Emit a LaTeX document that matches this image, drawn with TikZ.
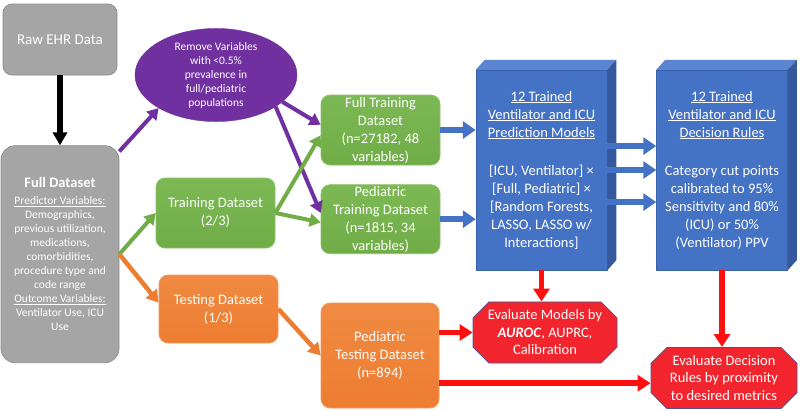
\documentclass[tikz,border=0pt]{standalone}
\usepackage{fontspec}
\setmainfont{Carlito}
\usepackage{tikz}
\usetikzlibrary{arrows.meta,positioning,calc,shapes.geometric,shapes.misc}
\definecolor{ehrgray}{HTML}{A5A5A5}
\definecolor{ehrgrayline}{HTML}{8C8C8C}
\definecolor{remvpurple}{HTML}{7030A0}
\definecolor{traingreen}{HTML}{70AD47}
\definecolor{traingreenlight}{HTML}{7CB955}
\definecolor{traingreenline}{HTML}{8CC26A}
\definecolor{testorange}{HTML}{ED7D31}
\definecolor{testorangelight}{HTML}{F08A42}
\definecolor{testorangeline}{HTML}{F29A5C}
\definecolor{cubefront}{HTML}{4472C4}
\definecolor{cubetop}{HTML}{5B85D0}
\definecolor{cubeside}{HTML}{35599C}
\definecolor{cubeline}{HTML}{3A62AC}
\definecolor{evalred}{HTML}{F2252E}
\definecolor{evalline}{HTML}{54508E}
\definecolor{arrred}{HTML}{FF1010}

\begin{document}
\begin{tikzpicture}[x=1pt, y=-1pt]
	\tikzstyle{roundbox} = [rectangle, rounded corners=9pt, draw, line width=0.7pt, text=white, align=center, inner sep=0pt, font=\fontsize{14.5}{18}\selectfont]
	\tikzstyle{greybox} = [roundbox, fill=ehrgray, draw=ehrgrayline]
	\tikzstyle{greenbox} = [roundbox, top color=traingreenlight, bottom color=traingreen, draw=traingreenline, minimum width=119pt, minimum height=70pt]
	\tikzstyle{orangebox} = [roundbox, top color=testorangelight, bottom color=testorange, draw=testorangeline, minimum width=119pt]
	\tikzstyle{cube} = [rectangle, draw=cubeline, line width=0.5pt, fill=cubefront, text=white, align=center, inner sep=0pt, minimum width=131pt, minimum height=200pt, font=\fontsize{14.5}{18}\selectfont]
	\tikzstyle{evalbox} = [chamfered rectangle, chamfered rectangle xsep=8pt, chamfered rectangle ysep=8pt, draw=evalline, line width=0.8pt, fill=evalred, text=white, align=center, inner sep=0pt, font=\fontsize{14.5}{17.5}\selectfont]
	\tikzstyle{arr} = [-{Triangle[width=15pt,length=12pt]}]

	\useasboundingbox (0,0) rectangle (800,410);

	\node[greybox, minimum width=114pt, minimum height=71pt, font=\fontsize{15}{18}\selectfont](raw) at (60,39.5) {Raw EHR Data};
	\node[greybox, rounded corners=14pt, minimum width=118pt, minimum height=217pt, font=\fontsize{11.5}{14}\selectfont, below=70pt of raw](full) {{\fontsize{14.5}{17}\selectfont\bfseries Full Dataset}\\[3pt]
		\underline{Predictor Variables:}\\Demographics,\\previous utilization,\\medications,\\comorbidities,\\procedure type and\\code range\\
		\underline{Outcome Variables:}\\Ventilator Use, ICU\\Use};
	\node[ellipse, fill=remvpurple, draw=remvpurple, text=white, align=center, inner sep=0pt, minimum width=162pt, minimum height=86pt, font=\fontsize{11.5}{14}\selectfont](remv) at (216,75) {Remove Variables\\with <0.5\%\\prevalence in\\full/pediatric\\populations};

	\node[greenbox](train) at (215.5,213) {Training Dataset\\(2/3)};
	\node[orangebox, minimum height=68pt](test) at (218.5,309) {Testing Dataset\\(1/3)};

	\node[greenbox](ftrain) at (380.5,130) {Full Training\\Dataset\\(n=27182, 48\\variables)};
	\node[greenbox, minimum height=69pt, below=19pt of ftrain](ptrain) {Pediatric\\Training Dataset\\(n=1815, 34\\variables)};
	\node[orangebox, minimum width=118pt, minimum height=105pt](ptest) at (380,355.5) {Pediatric\\Testing Dataset\\(n=894)};

	\node[cube](models) at (541.5,170) {\underline{12 Trained}\\\underline{Ventilator and ICU}\\\underline{Prediction Models}\\[20pt]
		{[}ICU, Ventilator] ×\\{[}Full, Pediatric] ×\\{[}Random Forests,\\LASSO, LASSO w/\\Interactions]};
	\node[cube, right=49pt of models](rules) {\underline{12 Trained}\\\underline{Ventilator and ICU}\\\underline{Decision Rules}\\[20pt]
		Category cut points\\calibrated to 95\%\\Sensitivity and 80\%\\(ICU) or 50\%\\(Ventilator) PPV};
	\foreach \b in {models,rules} {
		\fill[cubetop] (\b.north west) -- ++(9,-10) -- ($(\b.north east)+(9,-10)$) -- (\b.north east) -- cycle;
		\fill[cubeside] (\b.north east) -- ++(9,-10) -- ($(\b.south east)+(9,-10)$) -- (\b.south east) -- cycle;
	}

	\node[evalbox, minimum width=144pt, minimum height=61pt](evalm) at (545,332.5) {Evaluate Models by\\\textbf{\textit{AUROC}}, AUPRC,\\Calibration};
	\node[evalbox, minimum width=146pt, minimum height=58pt](evalr) at (724,378) {Evaluate Decision\\Rules by proximity\\to desired metrics};

	\path[arr, color=black, line width=6pt, -{Triangle[width=14pt,length=13pt]}] (raw) edge (full);
	\path[arr, color=remvpurple, line width=4pt, -{Triangle[width=13pt,length=11pt]}] (full.60) edge (remv.210)
		(remv.-22) edge (ftrain.175)
		(remv.-28) edge (ptrain.174);
	\path[arr, color=traingreen, line width=4pt, -{Triangle[width=13pt,length=11pt]}] (full.east) edge (train.west)
		(train.east) edge (ftrain.185)
		(train.east) edge (ptrain.183);
	\path[arr, color=testorange, line width=4.5pt, -{Triangle[width=14pt,length=12pt]}] (full.east) edge (test.174)
		(test.east) edge (ptest.west);
	\path[arr, color=cubefront, line width=6pt, -{Triangle[width=17pt,length=13pt]}] (ftrain.east) edge (ftrain.east -| models.west)
		(ptrain.east) edge (ptrain.east -| models.west)
		(models.20) edge (models.20 -| rules.west)
		(models.east) edge (rules.west)
		(models.-26) edge (models.-26 -| rules.west);
	\path[arr, color=arrred, line width=5.5pt, -{Triangle[width=16pt,length=13pt]}] (models.south) edge (models.south |- evalm.north)
		(rules.south) edge (rules.south |- evalr.north)
		(ptest.east |- evalm.west) edge (evalm.west)
		(ptest.-25) edge (ptest.-25 -| evalr.west);
\end{tikzpicture}
\end{document}
